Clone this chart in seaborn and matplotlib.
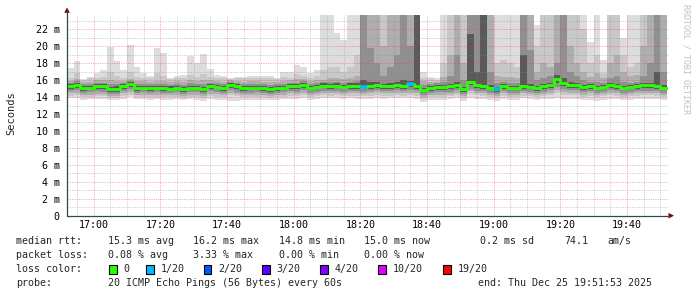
import numpy as np
import pandas as pd
import matplotlib
matplotlib.use("Agg")
import matplotlib.pyplot as plt
import seaborn as sns
from matplotlib.patches import Rectangle, Polygon

# ---------------- data (2-minute steps starting 16:52) ----------------
start_label = "16:52"
step_min = 2

median_ms = [15.3,15.45,15.05,15.1,15.3,15.25,14.9,14.95,15.3,15.5,
             15.05,15.1,15.05,15.1,15.05,15.0,15.1,14.95,15.1,15.1,
             14.95,15.3,15.2,15.05,15.4,15.25,15.05,15.1,15.1,15.05,
             14.9,15.05,15.1,15.3,15.25,15.45,15.1,15.2,15.35,15.3,
             15.35,15.2,15.35,15.35,15.2,15.3,15.45,15.3,15.35,15.45,
             15.35,15.5,15.35,14.85,15.05,15.15,15.15,15.25,15.45,14.9,
             15.8,15.4,15.35,15.1,14.9,15.3,15.1,15.1,15.3,15.2,
             15.05,15.25,15.45,16.1,15.6,15.45,15.45,15.15,15.3,15.1,
             15.2,15.45,15.3,15.1,15.2,15.3,15.4,15.4,15.35,15.1]

loss_count = [0]*90
loss_count[44] = 1
loss_count[51] = 1
loss_count[64] = 1

# smoke: nested ping-spread bands (outermost = lightest)
hi0 = [17.4,18.2,16.1,16.4,16.8,17.2,19.9,18.3,17.2,20.1,
       17.5,16.8,16.5,19.75,19.2,16.3,16.5,16.6,18.85,18.0,
       19.1,17.3,16.6,16.5,16.2,16.4,16.4,16.5,16.5,16.5,
       16.5,16.3,16.9,17.0,17.8,17.6,16.8,17.2,25,25,
       21.5,20.7,25,25,25,25,25,25,25,25,
       25,25,25,17.0,16.4,16.3,25,25,25,25,
       25,25,25,25,25,25,25,25,25,25,
       22.5,25,25,25,25,25,25,25,20.5,25,
       18.4,25,25,21.0,25,25,25,25,25,25]
hi1 = [16.3,16.8,16.0,16.2,16.3,16.4,17.0,16.5,16.3,16.9,
       16.4,16.2,16.2,16.8,16.5,16.1,16.2,16.2,16.6,16.4,
       16.7,16.4,16.2,16.2,16.1,16.3,16.2,16.3,16.2,16.3,
       16.2,16.1,16.4,16.3,16.7,16.5,16.2,16.5,17.2,17.5,
       17.6,17.0,17.5,19.0,25,25,25,25,25,25,
       25,25,25,16.2,16.1,16.0,18.0,25,25,25,
       25,25,25,25,18.0,18.4,18.0,17.5,25,25,
       20.0,25,25,25,25,25,25,22.0,18.0,19.0,
       16.8,25,25,19.0,17.5,18.0,25,25,25,25]
hi2 = [15.95,16.1,15.8,15.8,16.0,16.0,16.0,15.9,15.9,16.1,
       15.9,15.9,15.8,15.9,15.9,15.8,15.9,15.8,16.0,15.9,
       16.0,16.0,15.9,15.8,16.0,15.9,15.8,15.9,15.9,15.8,
       15.8,15.8,15.9,16.0,16.1,16.1,15.9,16.0,16.0,16.3,
       16.2,16.1,16.2,16.5,25,25,25,20.0,25,25,
       25,25,25,15.9,15.8,15.8,16.4,19.0,25,18.0,
       25,25,25,25,16.5,16.4,16.4,16.2,25,25,
       17.0,18.0,17.5,25,25,20.0,18.0,17.0,16.4,16.8,
       16.2,18.0,19.0,17.0,16.5,16.6,20.0,25,25,25]
hi3 = [15.7,15.85,15.5,15.55,15.7,15.7,15.5,15.5,15.7,15.9,
       15.5,15.55,15.5,15.55,15.5,15.45,15.55,15.45,15.6,15.55,
       15.5,15.7,15.6,15.5,15.8,15.65,15.5,15.55,15.55,15.5,
       15.4,15.5,15.55,15.7,15.7,15.85,15.55,15.65,15.75,15.8,
       15.8,15.7,15.8,15.9,25,19.8,18.0,16.5,17.5,19.0,
       25,20.0,25,15.4,15.5,15.6,15.8,16.5,19.0,16.0,
       25,25,25,17.0,15.6,15.8,15.6,15.6,25,19.5,
       16.0,16.2,16.5,18.0,25,17.0,16.5,16.0,15.8,15.8,
       15.7,16.2,16.5,15.8,15.7,15.8,16.5,18.0,25,17.0]
hi4 = [15.55,15.7,15.3,15.35,15.55,15.5,15.2,15.25,15.55,15.75,
       15.3,15.35,15.3,15.35,15.3,15.25,15.35,15.2,15.35,15.35,
       15.2,15.55,15.45,15.3,15.65,15.5,15.3,15.35,15.35,15.3,
       15.15,15.3,15.35,15.55,15.5,15.7,15.35,15.45,15.6,15.55,
       15.6,15.45,15.6,15.6,16.0,15.8,15.75,15.55,15.7,15.8,
       16.0,15.9,25,15.1,15.3,15.4,15.4,15.5,15.75,15.2,
       21.4,17.0,25,15.4,15.2,15.55,15.35,15.35,19.0,15.5,
       15.3,15.5,15.7,16.6,16.2,15.75,15.7,15.4,15.55,15.35,
       15.45,15.7,15.55,15.35,15.45,15.55,15.65,15.7,17.0,15.4]
lo4 = [15.0,15.1,14.75,14.8,15.0,14.95,14.6,14.65,15.0,15.2,
       14.75,14.8,14.75,14.8,14.75,14.7,14.8,14.65,14.8,14.8,
       14.65,15.0,14.9,14.75,15.1,14.95,14.75,14.8,14.8,14.75,
       14.6,14.75,14.8,15.0,14.95,15.1,14.8,14.9,15.05,15.0,
       15.05,14.9,15.0,15.0,14.9,15.0,15.1,15.0,15.0,15.1,
       15.0,15.15,15.0,14.55,14.75,14.85,14.85,14.95,15.1,14.6,
       15.4,15.05,15.0,14.8,14.6,15.0,14.8,14.8,15.0,14.9,
       14.75,14.95,15.1,15.7,15.25,15.1,15.1,14.85,15.0,14.8,
       14.9,15.1,15.0,14.8,14.9,15.0,15.05,15.05,15.0,14.8]
lo3 = [14.7,14.8,14.5,14.55,14.7,14.65,14.35,14.4,14.7,14.9,
       14.5,14.55,14.5,14.55,14.5,14.45,14.55,14.4,14.55,14.55,
       14.4,14.7,14.6,14.5,14.8,14.65,14.45,14.5,14.55,14.5,
       14.35,14.5,14.55,14.7,14.65,14.8,14.5,14.6,14.75,14.7,
       14.75,14.6,14.7,14.7,14.6,14.7,14.8,14.7,14.7,14.8,
       14.7,14.8,14.7,14.3,14.5,14.55,14.55,14.65,14.8,14.35,
       15.0,14.75,14.7,14.5,14.35,14.7,14.5,14.5,14.7,14.6,
       14.45,14.65,14.8,15.2,14.9,14.8,14.8,14.55,14.7,14.5,
       14.6,14.8,14.7,14.5,14.6,14.7,14.75,14.75,14.7,14.5]
lo2 = [14.45,14.5,14.25,14.3,14.4,14.4,14.1,14.15,14.45,14.6,
       14.25,14.3,14.25,14.3,14.25,14.2,14.3,14.15,14.3,14.3,
       14.1,14.4,14.35,14.25,14.5,14.4,14.2,14.25,14.3,14.25,
       14.1,14.25,14.3,14.45,14.4,14.5,14.25,14.35,14.5,14.45,
       14.5,14.35,14.45,14.45,14.35,14.45,14.55,14.45,14.45,14.5,
       14.45,14.5,14.45,14.05,14.25,14.3,14.3,14.4,14.5,14.1,
       14.7,14.5,14.45,14.25,14.1,14.45,14.25,14.25,14.45,14.35,
       14.2,14.4,14.5,14.8,14.6,14.5,14.5,14.3,14.45,14.25,
       14.35,14.5,14.45,14.25,14.35,14.45,14.5,14.5,14.45,14.25]
lo1 = [14.15,14.2,14.0,14.05,14.1,14.1,13.85,13.9,14.15,14.3,
       14.0,14.05,14.0,14.05,14.0,13.95,14.05,13.9,14.05,14.05,
       13.85,14.1,14.05,14.0,14.2,14.1,13.95,14.0,14.05,14.0,
       13.85,14.0,14.05,14.15,14.1,14.2,14.0,14.1,14.2,14.15,
       14.2,14.1,14.15,14.15,14.1,14.15,14.25,14.15,14.15,14.2,
       14.15,14.2,14.15,13.8,14.0,14.05,14.05,14.1,14.2,13.85,
       14.35,14.2,14.15,14.0,13.85,14.15,14.0,14.0,14.15,14.1,
       13.95,14.1,14.2,14.45,14.3,14.2,14.2,14.05,14.15,14.0,
       14.1,14.2,14.15,14.0,14.1,14.15,14.2,14.2,14.15,14.0]
lo0 = [13.85,13.9,13.7,13.75,13.8,13.8,13.65,13.6,13.8,13.95,
       13.75,13.8,13.7,13.75,13.7,13.7,13.75,13.65,13.75,13.7,
       13.55,13.8,13.7,13.7,13.5,13.5,13.6,13.65,13.7,13.7,
       13.6,13.7,13.75,13.8,13.75,13.9,13.7,13.8,13.9,13.85,
       13.9,13.8,13.85,13.8,13.75,13.8,13.9,13.8,13.85,13.9,
       13.85,13.9,13.8,13.45,13.6,13.7,13.7,13.75,13.85,13.55,
       13.9,13.8,13.8,13.7,13.55,13.8,13.7,13.7,13.85,13.75,
       13.6,13.75,13.8,13.9,13.8,13.75,13.8,13.6,13.7,13.55,
       13.7,13.8,13.75,13.6,13.7,13.75,13.8,13.8,13.75,13.65]

x_tick_labels = ["17:00", "17:20", "17:40", "18:00", "18:20", "18:40", "19:00", "19:20", "19:40"]
y_tick_values = [0, 2, 4, 6, 8, 10, 12, 14, 16, 18, 20, 22]
y_tick_labels = ["0", "2 m", "4 m", "6 m", "8 m", "10 m", "12 m", "14 m", "16 m", "18 m", "20 m", "22 m"]

loss_labels = ["0", "1/20", "2/20", "3/20", "4/20", "10/20", "19/20"]
loss_levels = [0, 1, 2, 3, 4, 10, 19]
loss_colors = ["#26ff00", "#00b8ff", "#0059ff", "#5e00ff", "#7e00ff", "#dd00ff", "#ff0000"]

# ---------------- styling ----------------
sns.set_style("white")
plt.rcParams['font.family'] = ['DejaVu Sans Mono', 'DejaVu Sans']
FS = 7.2

W, H = 697, 297
fig = plt.figure(figsize=(W / 100, H / 100), dpi=100)
fig.patch.set_facecolor("white")

def fx(px):
    return px / W

def fy(py):
    return 1 - py / H

AX_L, AX_R, AX_T, AX_B = 67, 668, 14.8, 215.7
ax = fig.add_axes([fx(AX_L), fy(AX_B), (AX_R - AX_L) / W, (AX_B - AX_T) / H])
ax.set_facecolor("white")

def to_min(s):
    h, m = s.split(":")
    return int(h) * 60 + int(m)

t0 = to_min(start_label)
n = len(median_ms)
x_edges = t0 + step_min * np.arange(n + 1)
px_per_min = 200 / 60.0
ax.set_xlim(t0, t0 + (AX_R - AX_L) / px_per_min)
ymax = (AX_B - AX_T) / 8.475
ax.set_ylim(0, ymax)

def ext(a):
    a = np.asarray(a, dtype=float)
    return np.append(a, a[-1])

layers = [(lo0, hi0, "#dddddd"), (lo1, hi1, "#c8c8c8"), (lo2, hi2, "#aeaeae"),
          (lo3, hi3, "#909090"), (lo4, hi4, "#5a5a5a")]
for k, (lo, hi, col) in enumerate(layers):
    ax.fill_between(x_edges, ext(lo), ext(hi), step="post", color=col, lw=0, zorder=1 + 0.1 * k)

# grid (drawn over smoke, like rrdtool)
minor_c = (0.55, 0.55, 0.55, 0.5)
major_c = (0.9, 0.25, 0.25, 0.5)
dot = (0, (1.0, 1.4))
for v in range(1, int(ymax) + 1):
    ax.axhline(v, color=major_c if v % 2 == 0 else minor_c, lw=0.7, ls=dot, zorder=3)
for t in range(int(t0) + 1, int(t0 + 181)):
    if t % 5 == 0:
        ax.axvline(t, color=major_c if t % 20 == 0 else minor_c, lw=0.7, ls=dot, zorder=3)

# median line
df = pd.DataFrame({"t": x_edges, "rtt": ext(median_ms)})
sns.lineplot(data=df, x="t", y="rtt", drawstyle="steps-post", color=loss_colors[0],
             lw=2.1, ax=ax, zorder=6)
for i, lc in enumerate(loss_count):
    if lc > 0:
        idx = max(j for j, lv in enumerate(loss_levels) if lv <= lc)
        ax.hlines(median_ms[i], x_edges[i], x_edges[i + 1], color=loss_colors[idx], lw=2.6, zorder=7)

# ticks
ax.set_xticks([to_min(s) for s in x_tick_labels])
ax.set_xticklabels(x_tick_labels)
ax.set_yticks(y_tick_values)
ax.set_yticklabels(y_tick_labels)
ax.tick_params(axis="both", length=0, labelsize=FS, colors="black")
ax.tick_params(axis="y", pad=5.2)
ax.tick_params(axis="x", pad=3.2)
ax.set_xlabel("")
ax.set_ylabel("")
for s in ax.spines.values():
    s.set_visible(False)

# axes lines with arrows (figure pixel coords)
axis_c = "#2c4d43"
arrow_c = "#7f0000"
fig.add_artist(plt.Line2D([fx(AX_L), fx(AX_L)], [fy(AX_B + 0.5), fy(10)], color=axis_c, lw=0.9))
fig.add_artist(plt.Line2D([fx(AX_L - 0.5), fx(670)], [fy(AX_B), fy(AX_B)], color=axis_c, lw=0.9))
fig.add_artist(Polygon([[fx(AX_L), fy(7.5)], [fx(AX_L - 2.8), fy(12.8)], [fx(AX_L + 2.8), fy(12.8)]],
                       closed=True, color=arrow_c, lw=0))
fig.add_artist(Polygon([[fx(674), fy(AX_B)], [fx(668.5), fy(AX_B - 2.8)], [fx(668.5), fy(AX_B + 2.8)]],
                       closed=True, color=arrow_c, lw=0))

# axis title and watermark
fig.text(fx(11), fy(113), "Seconds", rotation=90, ha="center", va="center", fontsize=FS + 0.3)
fig.text(fx(686), fy(4), "RRDTOOL / TOBI OETIKER", rotation=270, ha="center", va="top",
         fontsize=6.0, color="#c0c0c0")

# legend / statistics block
rows_y = [241, 255, 269, 283]
def txt(x, y, s):
    fig.text(fx(x), fy(y), s, ha="left", va="center", fontsize=FS)

txt(16, rows_y[0], "median rtt:")
for x, s in [(107.6, "15.3 ms avg"), (193, "16.2 ms max"), (279, "14.8 ms min"),
             (364.5, "15.0 ms now"), (479.5, "0.2 ms sd"), (564.5, "74.1"), (607.5, "am/s")]:
    txt(x, rows_y[0], s)
txt(16, rows_y[1], "packet loss:")
for x, s in [(107.6, "0.08 % avg"), (193, "3.33 % max"), (279, "0.00 % min"), (364.5, "0.00 % now")]:
    txt(x, rows_y[1], s)
txt(16, rows_y[2], "loss color:")
box_x = [109, 146, 203.5, 262, 320, 378, 443]
for bx, lab, col in zip(box_x, loss_labels, loss_colors):
    fig.add_artist(Rectangle((fx(bx), fy(rows_y[2] + 4.5)), 7.5 / W, 9 / H, facecolor=col,
                             edgecolor="black", lw=0.8))
    txt(bx + 14.5, rows_y[2], lab)
txt(16, rows_y[3], "probe:")
txt(107.6, rows_y[3], "20 ICMP Echo Pings (56 Bytes) every 60s")
txt(478, rows_y[3], "end: Thu Dec 25 19:51:53 2025")

fig.savefig("out.png", dpi=100, facecolor="white")
